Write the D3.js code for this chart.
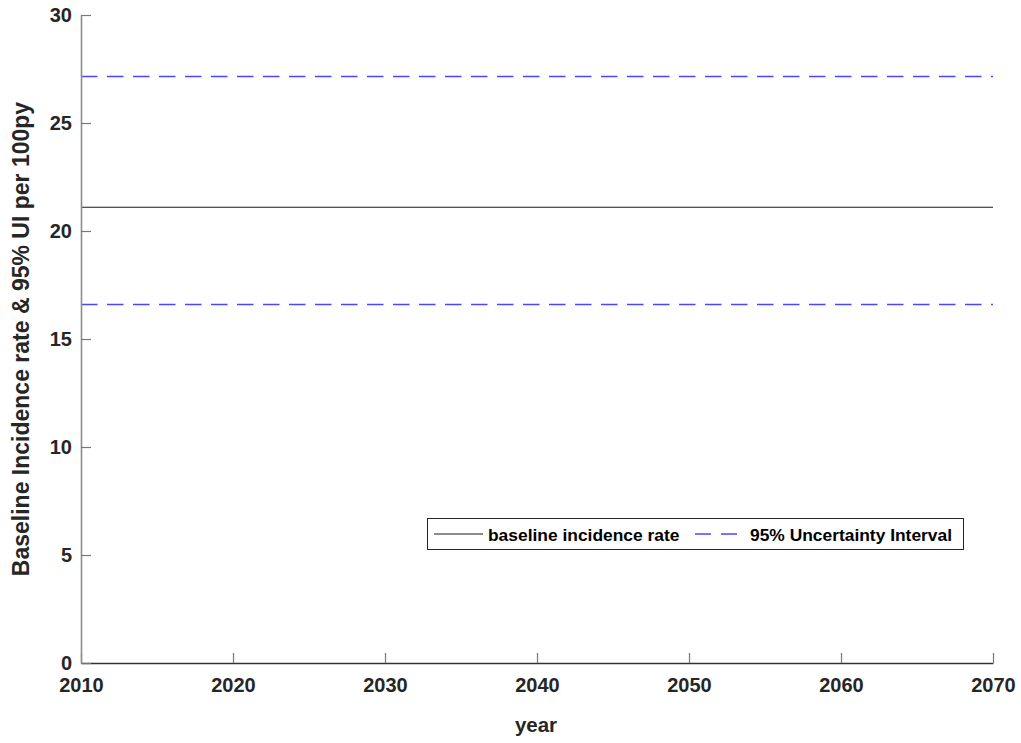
<!DOCTYPE html>
<html>
<head>
<meta charset="utf-8">
<script src="https://cdn.jsdelivr.net/npm/d3@7"></script>
<style>
  html, body { margin: 0; padding: 0; background: #fff; }
  svg { display: block; font-family: "Liberation Sans", Arial, Helvetica, sans-serif; }
</style>
</head>
<body>
<svg id="chart" width="1021" height="743"></svg>
<script>
// Projection horizon and the constant baseline incidence with its 95% UI
const years = [2010, 2070];
const baselineRate = [21.1, 21.1];
const lowerUI = [16.6, 16.6];
const upperUI = [27.15, 27.15];

const xTicks = [2010, 2020, 2030, 2040, 2050, 2060, 2070];
const yTicks = [0, 5, 10, 15, 20, 25, 30];

const legendLabels = ["baseline incidence rate", "95% Uncertainty Interval"];

const W = 1021, H = 743;
const plot = { left: 81, right: 993, top: 15, bottom: 663 };

const svg = d3.select("#chart");

const x = d3.scaleLinear().domain([2010, 2070]).range([plot.left, plot.right]);
const y = d3.scaleLinear().domain([0, 30]).range([plot.bottom, plot.top]);

// Series
const line = d3.line()
  .x((d, i) => x(years[i]))
  .y(d => y(d));

svg.append("path")
  .attr("d", line(upperUI))
  .attr("fill", "none")
  .attr("stroke", "#4747ff")
  .attr("stroke-width", 1.6)
  .attr("stroke-dasharray", "16.5,9.5");

svg.append("path")
  .attr("d", line(lowerUI))
  .attr("fill", "none")
  .attr("stroke", "#4747ff")
  .attr("stroke-width", 1.6)
  .attr("stroke-dasharray", "16.5,9.5");

svg.append("path")
  .attr("d", line(baselineRate))
  .attr("fill", "none")
  .attr("stroke", "#1a1a1a")
  .attr("stroke-width", 1.2);

// Axes (ticks point into the plot area)
const xAxis = d3.axisBottom(x)
  .tickValues(xTicks)
  .tickFormat(d3.format("d"))
  .tickSizeInner(-10)
  .tickSizeOuter(0)
  .tickPadding(15);

const gx = svg.append("g")
  .attr("transform", `translate(0,${plot.bottom})`)
  .call(xAxis);
gx.select(".domain").attr("stroke", "#333").attr("stroke-width", 1.3);
gx.selectAll(".tick line").attr("stroke", "#777").attr("stroke-width", 1.2);
gx.selectAll(".tick text")
  .attr("fill", "#262626")
  .attr("font-size", "20px")
  .attr("font-weight", "bold");

const yAxis = d3.axisLeft(y)
  .tickValues(yTicks)
  .tickSizeInner(-10)
  .tickSizeOuter(0)
  .tickPadding(9);

const gy = svg.append("g")
  .attr("transform", `translate(${plot.left},0)`)
  .call(yAxis);
gy.select(".domain").attr("stroke", "#8c8c8c").attr("stroke-width", 1.6);
gy.selectAll(".tick line").attr("stroke", "#777").attr("stroke-width", 1.2);
gy.selectAll(".tick text")
  .attr("fill", "#262626")
  .attr("font-size", "20px")
  .attr("font-weight", "bold");

// Axis titles
svg.append("text")
  .attr("x", 536)
  .attr("y", 732)
  .attr("text-anchor", "middle")
  .attr("font-size", "20.5px")
  .attr("font-weight", "bold")
  .attr("fill", "#262626")
  .text("year");

svg.append("text")
  .attr("transform", `translate(29,339) rotate(-90)`)
  .attr("text-anchor", "middle")
  .attr("font-size", "23px")
  .attr("font-weight", "bold")
  .attr("fill", "#262626")
  .text("Baseline Incidence rate & 95% UI per 100py");

// Legend
const lg = svg.append("g");
lg.append("rect")
  .attr("x", 427.5).attr("y", 518.5)
  .attr("width", 536).attr("height", 31)
  .attr("fill", "#fff")
  .attr("stroke", "#262626")
  .attr("stroke-width", 1);

lg.append("line")
  .attr("x1", 434).attr("x2", 483)
  .attr("y1", 534).attr("y2", 534)
  .attr("stroke", "#1a1a1a").attr("stroke-width", 1.2);

lg.append("text")
  .attr("x", 488).attr("y", 540.5)
  .attr("font-size", "17.4px").attr("font-weight", "bold")
  .attr("fill", "#000")
  .text(legendLabels[0]);

lg.append("line")
  .attr("x1", 695).attr("x2", 737)
  .attr("y1", 534).attr("y2", 534)
  .attr("stroke", "#4747ff").attr("stroke-width", 1.4)
  .attr("stroke-dasharray", "16,10");

lg.append("text")
  .attr("x", 750).attr("y", 540.5)
  .attr("font-size", "17.4px").attr("font-weight", "bold")
  .attr("fill", "#000")
  .text(legendLabels[1]);
</script>
</body>
</html>
